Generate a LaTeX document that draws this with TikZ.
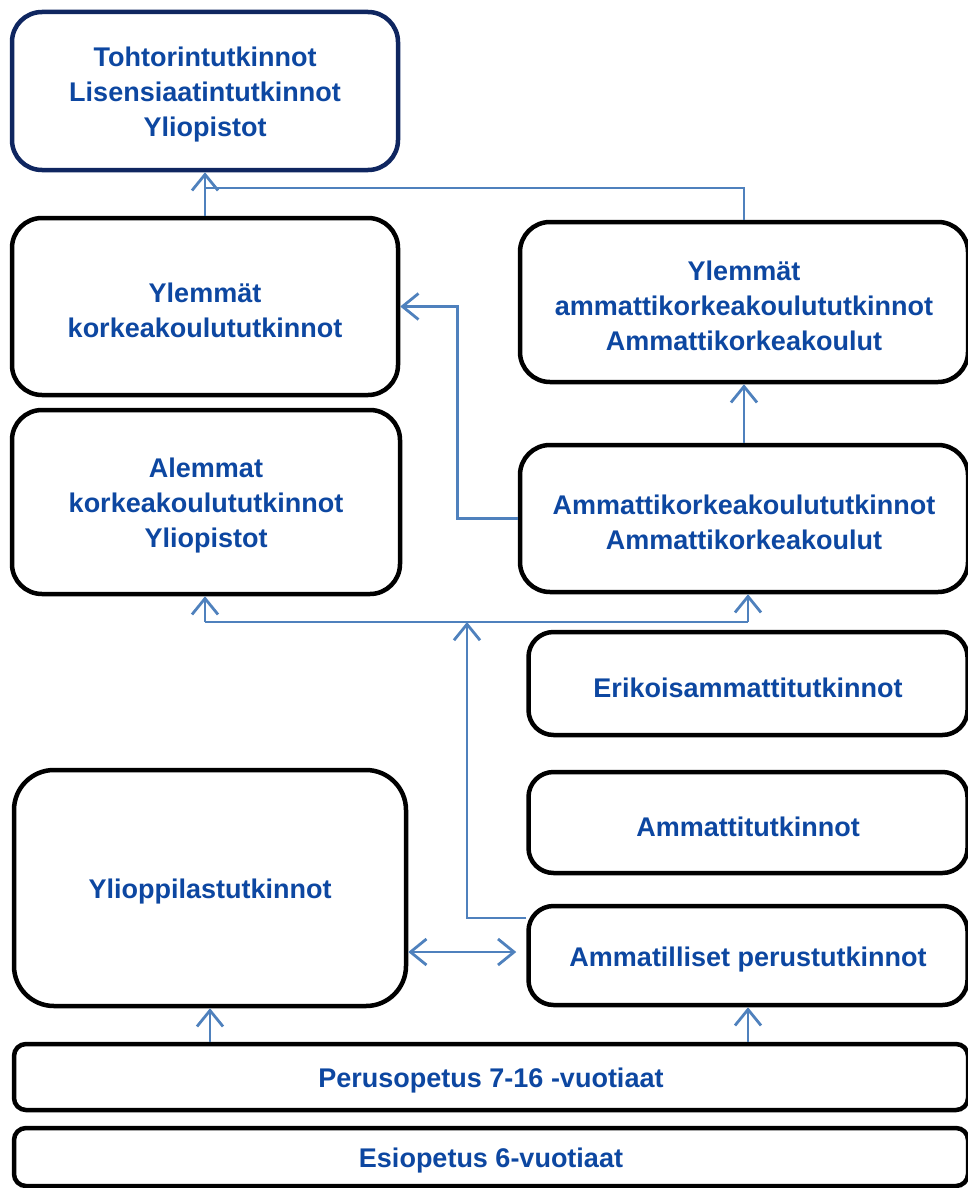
\documentclass[tikz,border=0pt]{standalone}
\usepackage{fontspec}
\setmainfont{Liberation Sans}
\usetikzlibrary{arrows.meta,calc}
\definecolor{txtblue}{HTML}{0D47A1}
\definecolor{navy}{HTML}{0F2660}
\definecolor{conncol}{HTML}{4F81BD}
\tikzset{
  box/.style={draw=black, line width=4.5pt, fill=white, inner sep=0pt},
  every label/.style={align=center, text=txtblue, inner sep=0pt, yshift=-4pt,
    font=\fontsize{27}{35}\selectfont\bfseries},
  conn/.style={draw=conncol, line width=2.8pt},
  arr/.style={conn, -{Straight Barb[length=16pt,width=26pt,line width=2.8pt]}},
  arrboth/.style={conn, {Straight Barb[length=16pt,width=26pt,line width=2.8pt]}-{Straight Barb[length=16pt,width=26pt,line width=2.8pt]}},
}
\begin{document}
\begin{tikzpicture}[x=1pt,y=-1pt]
\useasboundingbox (0,0) rectangle (968,1188);
% boxes
\node[box, draw=navy, rounded corners=30pt, minimum width=386pt, minimum height=158pt,
  label={center:{Tohtorintutkinnot\\Lisensiaatintutkinnot\\Yliopistot}}] (tohtori) at (205,91) {};
\node[box, rounded corners=30pt, minimum width=386pt, minimum height=177pt,
  label={center:{Ylemmät\\korkeakoulututkinnot}}] (ylk) at (205,306.5) {};
\node[box, rounded corners=30pt, minimum width=448pt, minimum height=160pt,
  label={center:{Ylemmät\\ammattikorkeakoulututkinnot\\Ammattikorkeakoulut}}] (ylamk) at (744,302) {};
\node[box, rounded corners=30pt, minimum width=388pt, minimum height=184pt,
  label={center:{Alemmat\\korkeakoulututkinnot\\Yliopistot}}] (alk) at (206,502) {};
\node[box, rounded corners=30pt, minimum width=448pt, minimum height=147pt,
  label={center:{Ammattikorkeakoulututkinnot\\Ammattikorkeakoulut}}] (amk) at (744,518.5) {};
\node[box, rounded corners=25pt, minimum width=439pt, minimum height=103pt,
  label={center:{Erikoisammattitutkinnot}}] (erik) at (748,683.5) {};
\node[box, rounded corners=25pt, minimum width=439pt, minimum height=101pt,
  label={center:{Ammattitutkinnot}}] (ammt) at (748,822.5) {};
\node[box, rounded corners=40pt, minimum width=392pt, minimum height=236pt,
  label={center:{Ylioppilastutkinnot}}] (yo) at (210,888) {};
\node[box, rounded corners=25pt, minimum width=439pt, minimum height=99pt,
  label={center:{Ammatilliset perustutkinnot}}] (ampt) at (748,955.5) {};
\node[box, rounded corners=12pt, minimum width=954pt, minimum height=66pt,
  label={center:{Perusopetus 7-16 -vuotiaat}}] (peru) at (491,1077) {};
\node[box, rounded corners=12pt, minimum width=954pt, minimum height=58pt,
  label={center:{Esiopetus 6-vuotiaat}}] (esi) at (491,1157) {};
% connectors
\coordinate (jt) at (205,188);
\draw[conn] (ylamk.north) |- (jt);
\draw[arr] (ylk.north) -- (tohtori.south);
\draw[arr] (amk.west) -- ++(-60,0) |- (ylk.east);
\draw[arr] (amk.north) -- (ylamk.south);
\coordinate (bl) at (205,622);
\coordinate (br) at (748,622);
\draw[conn] (bl) -- (br);
\draw[arr] (bl) -- (bl |- alk.south);
\draw[arr] (br) -- (br |- amk.south);
\coordinate (v) at (467,918);
\draw[arr] (ampt.west |- v) -- (v) -- (v |- bl);
\coordinate (dl) at (408,952);
\draw[arrboth, shorten >=10pt] (yo.east |- dl) -- (ampt.west |- dl);
\draw[arr] (peru.north -| yo.south) -- (yo.south);
\draw[arr] (peru.north -| ampt.south) -- (ampt.south);
\end{tikzpicture}
\end{document}
